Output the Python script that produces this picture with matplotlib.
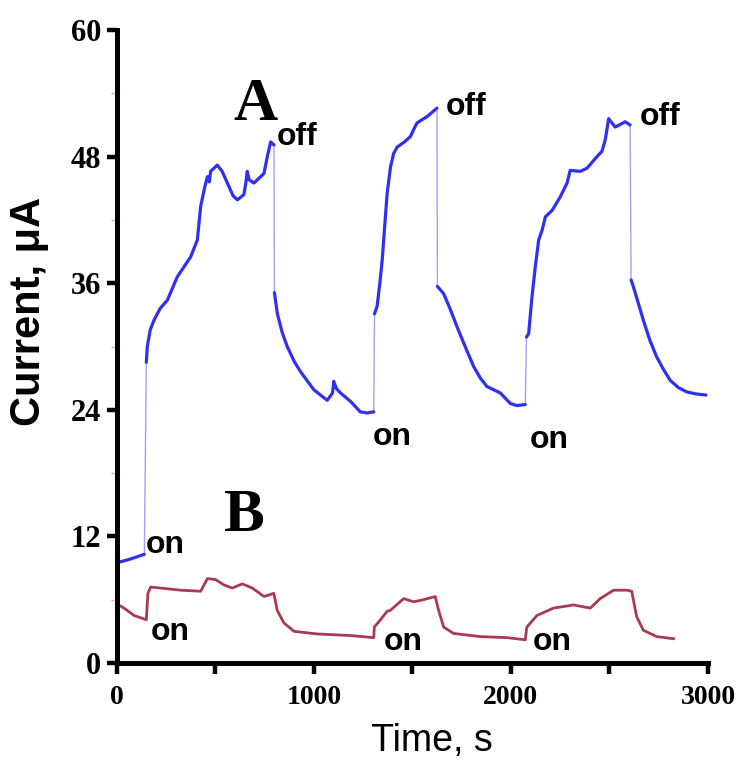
import matplotlib
matplotlib.use('Agg')
import numpy as np
import matplotlib.pyplot as plt
from matplotlib.ticker import MultipleLocator

# ---- curve A (blue) : time [s], current [uA] ----
a_time = [0, 60, 140,
          150, 155, 170, 189, 220, 257, 307, 375, 409, 426, 445, 460, 470, 476, 510, 535, 561,
          590, 612, 645, 655, 662, 672, 696, 747, 764, 781, 798,
          800, 815, 840, 865, 900, 933, 1000, 1068, 1095, 1101, 1115, 1135, 1186,
          1236, 1270, 1304,
          1308, 1321, 1335, 1347, 1360, 1372, 1389, 1405, 1423, 1460, 1490, 1510,
          1524, 1575, 1625,
          1627, 1659, 1693, 1726, 1770, 1811, 1845, 1879, 1946, 1997, 2030, 2073,
          2079, 2090, 2107, 2124, 2141, 2158, 2175, 2209, 2251, 2285, 2301, 2352,
          2386, 2437, 2462, 2479, 2496, 2529, 2580, 2605,
          2610, 2621, 2645, 2672, 2705, 2740, 2775, 2808, 2850, 2892, 2940, 2990]
a_current = [9.5, 9.8, 10.3,
             28.5, 30.0, 31.6, 32.5, 33.6, 34.4, 36.6, 38.5, 40.1, 43.3, 45.0, 46.1, 45.6, 46.6, 47.2, 46.6, 45.5,
             44.3, 43.9, 44.4, 45.5, 46.6, 45.8, 45.5, 46.4, 48.0, 49.4, 49.1,
             35.1, 33.1, 31.3, 30.0, 28.6, 27.6, 25.9, 24.9, 25.6, 26.7, 26.0, 25.6, 24.8,
             23.8, 23.7, 23.8,
             33.1, 33.8, 36.0, 38.2, 41.5, 44.5, 47.0, 48.3, 48.9, 49.4, 49.9, 50.7,
             51.2, 51.8, 52.6,
             35.7, 35.0, 33.5, 31.9, 29.9, 28.1, 27.0, 26.2, 25.6, 24.6, 24.4, 24.5,
             30.9, 31.2, 34.7, 37.6, 40.1, 41.0, 42.3, 42.9, 44.2, 45.5, 46.7, 46.6,
             46.9, 48.0, 48.5, 49.6, 51.6, 50.8, 51.3, 51.0,
             36.3, 35.7, 34.2, 32.5, 30.6, 29.0, 27.8, 26.8, 26.1, 25.7, 25.5, 25.4]
# indices where the light is switched (vertical jumps)
a_breaks = [3, 31, 47, 62, 74, 94]

# ---- curve B (maroon) ----
b_time = [0, 37, 88, 150, 158, 172, 223, 324, 426, 460, 502, 544, 586, 637, 688,
          747, 797, 814, 848, 899, 1017, 1186, 1304, 1307, 1338, 1372, 1389, 1456,
          1507, 1557, 1616, 1633, 1659, 1709, 1845, 1980, 2073, 2081, 2132, 2216,
          2318, 2403, 2453, 2521, 2588, 2613, 2638, 2672, 2740, 2825]
b_current = [5.6, 5.2, 4.5, 4.1, 6.6, 7.2, 7.1, 6.9, 6.8, 8.0, 7.9, 7.4, 7.1, 7.5, 7.1,
             6.3, 6.6, 5.0, 3.8, 3.0, 2.75, 2.6, 2.4, 3.4, 4.1, 4.9, 5.0, 6.1,
             5.8, 6.0, 6.3, 5.0, 3.4, 2.8, 2.5, 2.4, 2.2, 3.4, 4.5, 5.2,
             5.5, 5.2, 6.1, 6.9, 6.9, 6.8, 4.4, 3.1, 2.5, 2.3]

# ---- annotations ----
off_labels = [(811, 49.9), (1667, 52.7), (2656, 51.8)]
on_labels = [(147, 11.2), (1297, 21.4), (2098, 21.1),
             (172, 2.9), (1353, 2.0), (2113, 2.0)]

BLUE = '#3030f0'
RED = '#a83a52'
sans = ['Liberation Sans', 'DejaVu Sans']
serif = ['Liberation Serif', 'DejaVu Serif']

fig = plt.figure(figsize=(7.39, 7.70), dpi=100)
ax = fig.add_axes([0.158, 0.139, 0.800, 0.822])

# curve A: thin line through the jumps, thick for the continuous parts
ax.plot(a_time, a_current, color=BLUE, lw=1.0, alpha=0.45)
for t, c in zip(np.split(np.array(a_time), a_breaks), np.split(np.array(a_current), a_breaks)):
    ax.plot(t, c, color=BLUE, lw=2.3, solid_capstyle='round', solid_joinstyle='round')

ax.plot(b_time, b_current, color=RED, lw=2.0, solid_joinstyle='round')

for x, y in off_labels:
    ax.text(x, y, 'off', fontsize=23, fontweight='bold', family=sans,
            ha='left', va='center')
for x, y in on_labels:
    ax.text(x, y, 'on', fontsize=23, fontweight='bold', family=sans,
            ha='left', va='center')

ax.text(704, 52.9, 'A', fontsize=44, fontweight='bold', family=serif,
        ha='center', va='center')
ax.text(649, 13.9, 'B', fontsize=44, fontweight='bold', family=serif,
        ha='center', va='center')

ax.set_xlim(0, 3000)
ax.set_ylim(0, 60)
ax.spines['top'].set_visible(False)
ax.spines['right'].set_visible(False)
for s in ('left', 'bottom'):
    ax.spines[s].set_linewidth(3.6)
    ax.spines[s].set_capstyle('projecting')

ax.xaxis.set_major_locator(MultipleLocator(1000))
ax.xaxis.set_minor_locator(MultipleLocator(500))
ax.yaxis.set_major_locator(MultipleLocator(12))
ax.yaxis.set_minor_locator(MultipleLocator(6))
ax.tick_params(axis='x', which='both', direction='out', length=8, width=3.2, pad=8)
ax.tick_params(axis='y', which='major', direction='out', length=7, width=3.2, pad=4)
ax.tick_params(axis='y', which='minor', direction='out', length=4, width=1.0,
               color='#e6a6c6')

for lab in ax.get_xticklabels():
    lab.set_fontfamily(serif)
    lab.set_fontweight('bold')
    lab.set_fontsize(20)
for lab in ax.get_yticklabels():
    lab.set_fontfamily(serif)
    lab.set_fontweight('bold')
    lab.set_fontsize(22)

ax.set_xlabel('Time, s', fontsize=27, family=sans)
ax.xaxis.set_label_coords(0.533, -0.095)
ax.set_ylabel('Current, \u03bcA', fontsize=30, fontweight='bold', family=sans)
ax.yaxis.set_label_coords(-0.115, 0.556)

fig.savefig('out.png', dpi=100)
